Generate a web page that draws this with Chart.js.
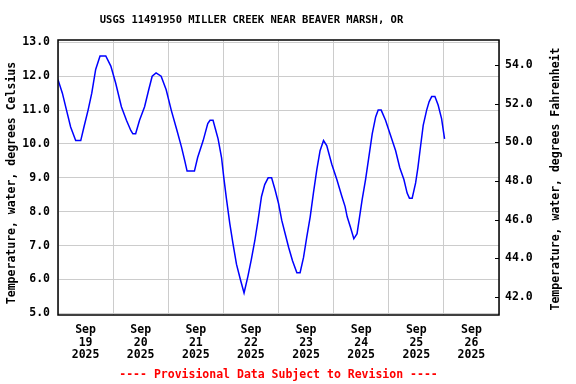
<!DOCTYPE html>
<html><head><meta charset="utf-8">
<script src="https://cdn.jsdelivr.net/npm/chart.js@4/dist/chart.umd.min.js"></script>
<style>html,body{margin:0;padding:0;background:#fff;}canvas{display:block;}</style>
</head><body>
<canvas id="c" width="576" height="384"></canvas>
<script>
// Hours since Sep 19 2025 00:00, and water temperature (deg C)
const hoursDay19 = [0, 1.9, 3.7, 5.5, 7.7, 9.9, 11.3, 13.1, 14.7, 16.4, 18.3, 20.8, 23];
const tempsDay19 = [11.9, 11.5, 11.0, 10.5, 10.1, 10.1, 10.5, 11.0, 11.5, 12.2, 12.6, 12.6, 12.3];
const hoursDay20 = [25.1, 27.6, 29.8, 31.7, 32.6, 33.8, 35.5, 37.7, 39.5, 41, 42.7, 44.9, 47.1];
const tempsDay20 = [11.8, 11.1, 10.7, 10.4, 10.3, 10.3, 10.7, 11.1, 11.6, 12.0, 12.1, 12.0, 11.6];
const hoursDay21 = [49.3, 51.8, 53.8, 55.2, 56.2, 59.4, 60.8, 63.2, 65.2, 66.2, 67.5, 68.5, 69.7, 71.2];
const tempsDay21 = [11.0, 10.4, 9.9, 9.5, 9.2, 9.2, 9.6, 10.1, 10.6, 10.7, 10.7, 10.45, 10.15, 9.6];
const hoursDay22 = [72.2, 73.3, 74.8, 76.2, 77.7, 79.4, 81, 82.7, 84.2, 85.7, 87.1, 88.6, 90, 91.5, 93, 94.5];
const tempsDay22 = [9.0, 8.4, 7.65, 7.05, 6.45, 6.0, 5.6, 6.1, 6.6, 7.15, 7.75, 8.45, 8.8, 9.0, 9.0, 8.65];
const hoursDay23 = [96, 97.4, 98.9, 100.4, 102.1, 104, 105.4, 106.9, 108.3, 109.8, 111.2, 112.7, 114.1, 115.6, 117, 119.2];
const tempsDay23 = [8.25, 7.75, 7.35, 6.95, 6.55, 6.2, 6.2, 6.65, 7.25, 7.85, 8.55, 9.25, 9.8, 10.1, 9.95, 9.4];
const hoursDay24 = [121.4, 123.6, 125, 125.9, 127.3, 128.8, 130.2, 131.3, 132.4, 133.9, 135.3, 136.8, 138.3, 139.4, 140.7, 142.6];
const tempsDay24 = [8.95, 8.45, 8.15, 7.85, 7.55, 7.2, 7.35, 7.85, 8.35, 8.95, 9.6, 10.3, 10.8, 11.0, 11.0, 10.7];
const hoursDay25 = [144.8, 147, 148.8, 150.6, 152, 153, 154.2, 155.7, 156.7, 157.6, 159, 160.5, 161.6, 162.7, 164.1, 165.5, 167];
const tempsDay25 = [10.25, 9.8, 9.3, 8.95, 8.55, 8.4, 8.4, 8.85, 9.3, 9.8, 10.55, 11.0, 11.25, 11.4, 11.4, 11.15, 10.75];
const hoursDay26 = [168.3];
const tempsDay26 = [10.15];

const monthLabel = 'Sep';
const yearLabel = '2025';
const dayLabels = ['19', '20', '21', '22', '23', '24', '25', '26'];
const celsiusTicks = [5, 6, 7, 8, 9, 10, 11, 12, 13];
const fahrenheitTicks = [42, 44, 46, 48, 50, 52, 54];

const titleText = 'USGS 11491950 MILLER CREEK NEAR BEAVER MARSH, OR';
const leftTitle = 'Temperature, water, degrees Celsius';
const rightTitle = 'Temperature, water, degrees Fahrenheit';
const footerText = '---- Provisional Data Subject to Revision ----';

const hours = [].concat(hoursDay19, hoursDay20, hoursDay21, hoursDay22, hoursDay23, hoursDay24, hoursDay25, hoursDay26);
const temps = [].concat(tempsDay19, tempsDay20, tempsDay21, tempsDay22, tempsDay23, tempsDay24, tempsDay25, tempsDay26);
const points = hours.map((h, i) => ({x: h, y: temps[i]}));

const xTickValues = [];
dayLabels.forEach((d, i) => { xTickValues.push(i * 24, i * 24 + 12); });
xTickValues.push(dayLabels.length * 24);

const FONT = '"DejaVu Sans Mono", "Liberation Mono", monospace';
const tickFont = {family: FONT, size: 11.5, weight: 'bold', lineHeight: 1.11};

const framePlugin = {
  id: 'frame',
  afterLayout(chart) {
    const tb = chart.titleBlock;
    if (tb) { tb.left = 0; tb.right = 503; }
  },
  afterDraw(chart) {
    const ctx = chart.ctx, a = chart.chartArea;
    ctx.save();
    ctx.strokeStyle = '#000';
    ctx.lineWidth = 1.5;
    ctx.strokeRect(a.left, a.top, a.right - a.left, a.bottom - a.top);
    const y2 = chart.scales.y2;
    ctx.lineWidth = 1;
    y2.ticks.forEach(t => {
      const y = Math.round(y2.getPixelForValue(t.value)) + 0.5;
      ctx.beginPath(); ctx.moveTo(a.right - 4, y); ctx.lineTo(a.right, y); ctx.stroke();
    });
    ctx.fillStyle = '#000';
    ctx.font = 'bold 11.5px ' + FONT;
    ctx.textAlign = 'center';
    ctx.textBaseline = 'middle';
    ctx.save(); ctx.translate(12, 183); ctx.rotate(-Math.PI / 2);
    ctx.fillText(chart.options.scales.y.title.text, 0, 0); ctx.restore();
    ctx.save(); ctx.translate(556, 179); ctx.rotate(-Math.PI / 2);
    ctx.fillText(chart.options.scales.y2.title.text, 0, 0); ctx.restore();
    ctx.restore();
  }
};

new Chart(document.getElementById('c'), {
  type: 'line',
  data: {
    datasets: [{
      data: points,
      yAxisID: 'y',
      borderColor: '#0000ff',
      borderWidth: 1.5,
      pointRadius: 0,
      tension: 0,
      fill: false
    }]
  },
  options: {
    responsive: false,
    animation: false,
    devicePixelRatio: 1,
    layout: {padding: 0},
    plugins: {
      legend: {display: false},
      tooltip: {enabled: false},
      title: {
        display: true, text: titleText, color: '#000',
        font: {family: FONT, size: 10.5, weight: 'bold', lineHeight: 1.2},
        padding: {top: 14, bottom: 13.4}
      },
      subtitle: {
        display: true, position: 'bottom', fullSize: false, text: footerText, color: '#ff0000',
        font: {family: FONT, size: 11.5, weight: 'bold', lineHeight: 1.2},
        padding: {top: 0, bottom: 2}
      }
    },
    scales: {
      x: {
        type: 'linear', min: 0, max: dayLabels.length * 24,
        afterBuildTicks: s => { s.ticks = xTickValues.map(v => ({value: v})); },
        afterFit: s => { s.height = 53.2; },
        grid: {
          color: c => (c.tick && c.tick.value % 24 === 0) ? '#cccccc' : 'rgba(0,0,0,0)',
          drawTicks: false, lineWidth: 1
        },
        border: {display: false},
        ticks: {
          autoSkip: false, maxRotation: 0, minRotation: 0, padding: 8.6, color: '#000', font: tickFont,
          callback: v => (v % 24 === 12) ? [monthLabel, dayLabels[(v - 12) / 24], yearLabel] : ''
        }
      },
      y: {
        position: 'left', min: 4.95, max: 13.07,
        afterBuildTicks: s => { s.ticks = celsiusTicks.map(v => ({value: v})); },
        afterFit: s => { s.width = 58; },
        grid: {color: '#cccccc', drawTicks: false, lineWidth: 1},
        border: {display: false},
        ticks: {padding: 8, color: '#000', font: tickFont, callback: v => Number(v).toFixed(1)},
        title: {display: false, text: leftTitle}
      },
      y2: {
        position: 'right', min: 41.05, max: 55.31, display: true,
        afterBuildTicks: s => { s.ticks = fahrenheitTicks.map(v => ({value: v})); },
        afterFit: s => { s.width = 77; },
        grid: {drawOnChartArea: false, drawTicks: false},
        border: {display: false},
        ticks: {padding: 6, color: '#000', font: tickFont, callback: v => Number(v).toFixed(1)},
        title: {display: false, text: rightTitle}
      }
    }
  },
  plugins: [framePlugin]
});
</script>
</body></html>
